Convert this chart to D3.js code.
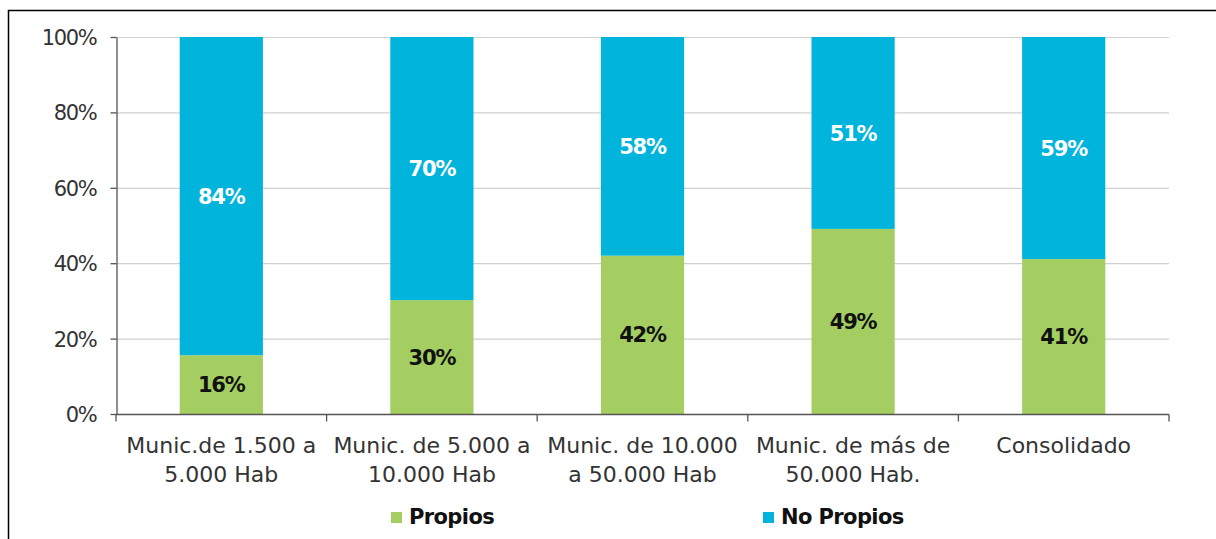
<!DOCTYPE html>
<html><head><meta charset="utf-8">
<script src="https://cdn.jsdelivr.net/npm/d3@7"></script>
<style>body{margin:0;background:#fff}svg{display:block}</style>
</head><body>
<svg id="c" width="1216" height="539"></svg>
<script>
const categories = [["Munic.de 1.500 a","5.000 Hab"],["Munic. de 5.000 a","10.000 Hab"],["Munic. de 10.000","a 50.000 Hab"],["Munic. de más de","50.000 Hab."],["Consolidado"]];
const propios = [15.6, 30.2, 42.0, 49.1, 41.1];
const noPropios = [84.4, 69.8, 58.0, 50.9, 58.9];
const seriesNames = ["Propios", "No Propios"];
const yTicks = [0, 20, 40, 60, 80, 100];

const svg = d3.select("#c");
const font = "DejaVu Sans, sans-serif";
const colors = ["#A4CE62", "#00B4DC"];
const m = {l:116, r:1169, t:37, b:414};

svg.append("path").attr("d","M8.5,539 V10.5 H1216").attr("fill","none").attr("stroke","#000").attr("stroke-width",1.5);

const x = d3.scaleBand().domain(d3.range(categories.length)).range([m.l, m.r]).paddingInner(0).paddingOuter(0);
const y = d3.scaleLinear().domain([0,100]).range([m.b, m.t]);

// gridlines
svg.append("g").selectAll("line").data(yTicks.filter(d=>d>0)).join("line")
  .attr("x1", m.l).attr("x2", m.r).attr("y1", d=>y(d)+0.5).attr("y2", d=>y(d)+0.5)
  .attr("stroke","#d0d0d0").attr("stroke-width",1.2);

const bw = x.bandwidth()*0.395;
const stack = categories.map((c,i)=>({i, p:propios[i], n:noPropios[i]}));
const g = svg.append("g");
g.selectAll("rect.p").data(stack).join("rect")
  .attr("x", d=>x(d.i)+x.bandwidth()/2-bw/2).attr("width", bw)
  .attr("y", d=>y(d.p)).attr("height", d=>y(0)-y(d.p)).attr("fill", colors[0]);
g.selectAll("rect.n").data(stack).join("rect")
  .attr("x", d=>x(d.i)+x.bandwidth()/2-bw/2).attr("width", bw)
  .attr("y", d=>y(d.p+d.n)).attr("height", d=>y(d.p)-y(d.p+d.n)).attr("fill", colors[1]);

g.selectAll("text.p").data(stack).join("text")
  .attr("x", d=>x(d.i)+x.bandwidth()/2).attr("y", d=>(y(0)+y(d.p))/2)
  .attr("dy","0.36em").attr("text-anchor","middle").attr("font-family",font).attr("font-weight","bold")
  .attr("font-size",21).attr("letter-spacing",-1.2).attr("fill","#111").text(d=>Math.round(d.p)+"%");
g.selectAll("text.n").data(stack).join("text")
  .attr("x", d=>x(d.i)+x.bandwidth()/2).attr("y", d=>(y(d.p)+y(d.p+d.n))/2)
  .attr("dy","0.36em").attr("text-anchor","middle").attr("font-family",font).attr("font-weight","bold")
  .attr("font-size",21).attr("letter-spacing",-1.2).attr("fill","#fff").text(d=>Math.round(d.n)+"%");

// y axis
const ya = svg.append("g").attr("transform",`translate(${m.l+0.5},0)`)
  .call(d3.axisLeft(y).tickValues(yTicks).tickFormat(d=>d+"%").tickSize(6).tickSizeOuter(0));
ya.select(".domain").attr("stroke","#555").attr("stroke-width",1.3);
ya.selectAll(".tick line").attr("stroke","#555").attr("stroke-width",1.3);
ya.selectAll(".tick text").attr("font-family",font).attr("font-size",21).attr("letter-spacing",-1.3)
  .attr("fill","#333").attr("x",-20).attr("dy","0.36em");

// x axis
const xa = svg.append("g").attr("transform",`translate(0,${m.b+0.5})`);
xa.append("line").attr("x1",m.l).attr("x2",m.r).attr("stroke","#555").attr("stroke-width",1.3);
xa.selectAll("line.t").data(d3.range(categories.length+1)).join("line")
  .attr("x1", d=> d<categories.length ? x(d) : m.r).attr("x2", d=> d<categories.length ? x(d) : m.r)
  .attr("y1",0).attr("y2",7).attr("stroke","#555").attr("stroke-width",1.3);
const xl = xa.selectAll("text").data(categories).join("text")
  .attr("text-anchor","middle").attr("font-family",font).attr("font-size",22).attr("fill","#333");
xl.each(function(lines,i){
  d3.select(this).selectAll("tspan").data(lines).join("tspan")
    .attr("x", x(i)+x.bandwidth()/2).attr("y",(d,j)=>38.5+j*29).text(d=>d);
});

// legend
const leg = [{name:seriesNames[0], c:colors[0], x:391},{name:seriesNames[1], c:colors[1], x:763}];
const lg = svg.append("g").selectAll("g").data(leg).join("g").attr("transform",d=>`translate(${d.x},0)`);
lg.append("rect").attr("x",0).attr("y",512).attr("width",11).attr("height",11).attr("fill",d=>d.c);
lg.append("text").attr("x",18).attr("y",524).attr("font-family",font).attr("font-weight","bold")
  .attr("font-size",21).attr("letter-spacing",-0.6).attr("fill","#111").text(d=>d.name);
</script>
</body></html>
